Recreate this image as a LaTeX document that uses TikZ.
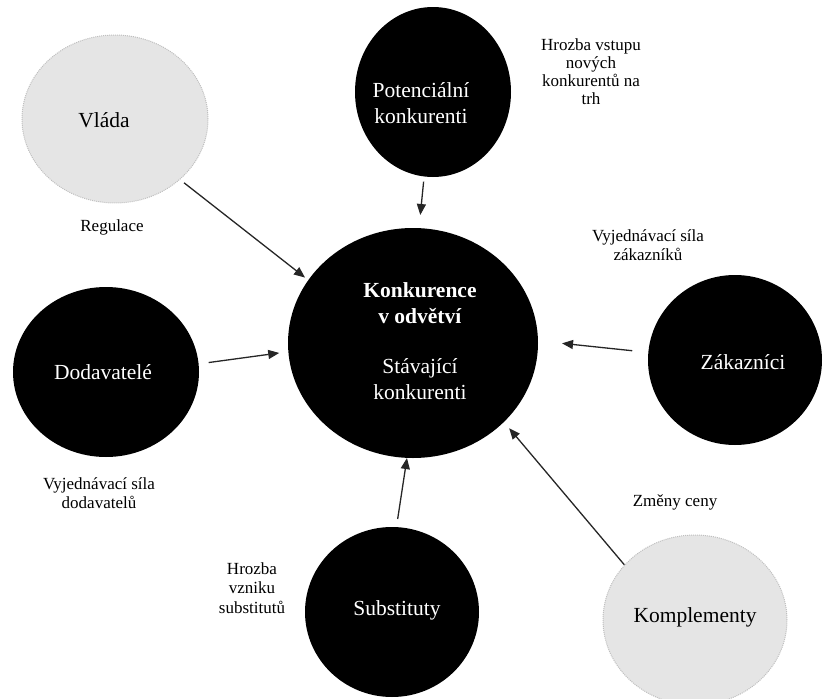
\documentclass[tikz,border=0pt]{standalone}
\usepackage{fontspec}
\setmainfont{Liberation Serif}
\usetikzlibrary{shapes.geometric,arrows.meta}
\begin{document}
\begin{tikzpicture}[x=1pt,y=-1pt,
  blackc/.style={ellipse,fill=black,draw=none,inner sep=0pt},
  greyc/.style={ellipse,fill=gray!20,draw=gray!50,densely dotted,line width=1pt,inner sep=0pt},
  wtext/.style={text=white,font=\fontsize{21.5}{26}\selectfont,align=center,inner sep=0pt},
  btext/.style={text=black,font=\fontsize{21.5}{26}\selectfont,align=center,inner sep=0pt},
  lbl/.style={font=\fontsize{17}{19.5}\selectfont,align=center,inner sep=0pt},
  arr/.style={-{Triangle[length=11pt,width=9pt]},line width=1.3pt,draw=black!85}]
\useasboundingbox (0,0) rectangle (823,699);
% circles
\node[greyc,minimum width=186pt,minimum height=168pt] (vlada) at (115,119) {};
\node[blackc,minimum width=156pt,minimum height=170pt] (potenc) at (433,92) {};
\node[blackc,minimum width=250pt,minimum height=230pt] (central) at (413,343) {};
\node[blackc,minimum width=186pt,minimum height=170pt] (dodav) at (106,372) {};
\node[blackc,minimum width=174pt,minimum height=170pt] (zakaz) at (735,360) {};
\node[blackc,minimum width=174pt,minimum height=170pt] (subst) at (392,612) {};
\node[greyc,minimum width=184pt,minimum height=170pt] (kompl) at (695,620) {};
% circle texts
\node[btext] (vladat) at (104,120) {Vláda};
\node[wtext] (potenct) at (421,103) {Potenciální\\konkurenti};
\node[wtext] (centralt) at (420,341) {\textbf{Konkurence}\\\textbf{v odvětví}\\[24pt]Stávající\\konkurenti};
\node[wtext] (dodavt) at (103,372) {Dodavatelé};
\node[wtext] (zakazt) at (743,362) {Zákazníci};
\node[wtext] (substt) at (397,610) {Substituty};
\node[btext] (komplt) at (695,617) {Komplementy};
% labels
\node[lbl,font=\fontsize{17}{18}\selectfont] (l1) at (591,72) {Hrozba vstupu\\nových\\konkurentů na\\trh};
\node[lbl] (l2) at (112,227) {Regulace};
\node[lbl] (l3) at (648,245) {Vyjednávací síla\\zákazníků};
\node[lbl] (l4) at (99,493) {Vyjednávací síla\\dodavatelů};
\node[lbl] (l5) at (675,502) {Změny ceny};
\node[lbl] (l6) at (252,588) {Hrozba\\vzniku\\substitutů};
% arrows
\draw[arr,shorten <=5pt,shorten >=4pt] (vlada.-43) -- (central.149);
\draw[arr,shorten <=5pt,shorten >=13pt] (potenc.-96) -- (central.87);
\draw[arr,shorten <=10pt,shorten >=9pt] (dodav.5) -- (central.-176);
\draw[arr,shorten <=16pt,shorten >=24pt] (zakaz.175) -- (central.1);
\draw[arr,shorten <=8pt] (subst.87) -- (central.-93);
\draw[arr,shorten >=8pt] (kompl.142) -- (central.-41);
\end{tikzpicture}
\end{document}
